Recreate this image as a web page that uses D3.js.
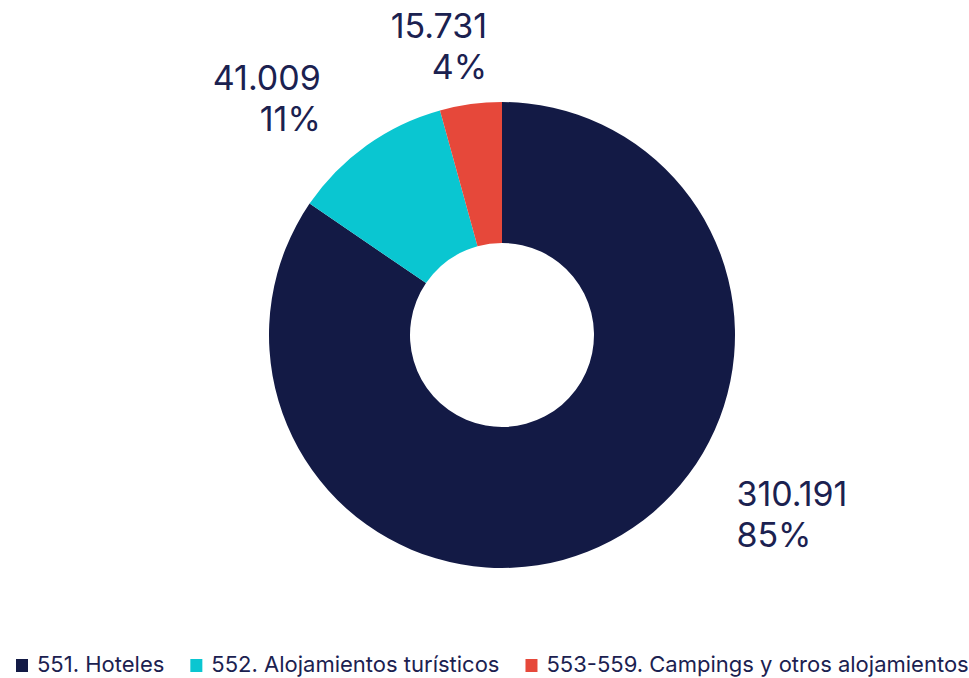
<!DOCTYPE html>
<html>
<head>
<meta charset="utf-8">
<script src="https://cdn.jsdelivr.net/npm/d3@7"></script>
<style>
  body { margin: 0; background: #fff; }
  svg { display: block; font-family: Inter, "Noto Sans", sans-serif; }
</style>
</head>
<body>
<svg id="chart" width="969" height="678"></svg>
<script>
const categories = ['551. Hoteles', '552. Alojamientos turísticos', '553-559. Campings y otros alojamientos'];
const values = [310191, 41009, 15731];
const colors = ['#131a45', '#0ac6d1', '#e6483a'];

const svg = d3.select('#chart');
const cx = 502, cy = 335;
const outerR = 233, innerR = 92;
const textColor = '#1b2150';

const pie = d3.pie().sort(null).value((d) => d.value);
const arcs = pie(categories.map((c, i) => ({ name: c, value: values[i] })));
const total = d3.sum(values);

const arc = d3.arc().innerRadius(innerR).outerRadius(outerR);
const labelArc = d3.arc().innerRadius(260).outerRadius(260);

const g = svg.append('g').attr('transform', `translate(${cx},${cy})`);

g.selectAll('path')
  .data(arcs)
  .join('path')
  .attr('d', arc)
  .attr('fill', (d, i) => colors[i]);

// hand nudges so labels sit where the original placed them
const nudge = [[113, -49], [-30, -23], [20, -29]];
const fmt = (v) => d3.format(',')(v).replace(/,/g, '.');

const labels = g.selectAll('.lbl')
  .data(arcs)
  .join('text')
  .attr('class', 'lbl')
  .attr('fill', textColor)
  .attr('font-size', 34)
  .attr('text-anchor', (d) => ((d.startAngle + d.endAngle) / 2 < Math.PI ? 'start' : 'end'))
  .attr('transform', (d, i) => {
    const [x, y] = labelArc.centroid(d);
    return `translate(${x + nudge[i][0]},${y + nudge[i][1]})`;
  });

labels.append('tspan').attr('x', 0).attr('y', -10).text((d) => fmt(d.value));
labels.append('tspan').attr('x', 0).attr('y', 31)
  .text((d) => `${Math.round((d.value / total) * 100)}%`);

// legend
const legend = svg.append('g').attr('transform', 'translate(16,672)');
let lx = 0;
categories.forEach((c, i) => {
  const item = legend.append('g').attr('transform', `translate(${lx},0)`);
  item.append('rect').attr('x', 0).attr('y', -13).attr('width', 12).attr('height', 13).attr('fill', colors[i]);
  const t = item.append('text').attr('x', 21).attr('y', 0).attr('font-size', 22).attr('fill', textColor).text(c);
  lx += 21 + t.node().getComputedTextLength() + 26;
});
</script>
</body>
</html>
